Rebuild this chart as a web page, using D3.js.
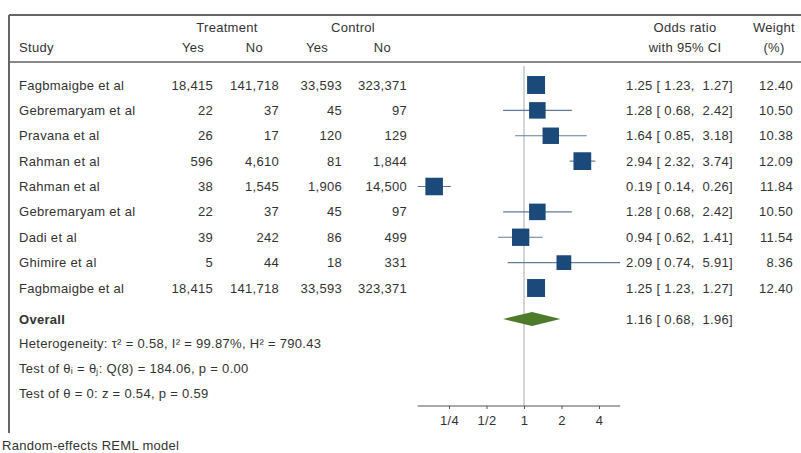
<!DOCTYPE html>
<html>
<head>
<meta charset="utf-8">
<script src="https://cdn.jsdelivr.net/npm/d3@7"></script>
<style>
  body { margin: 0; background: #fff; }
  svg text { font-family: "Liberation Sans", Arial, sans-serif; font-size: 13px; fill: #333; letter-spacing: 0.3px; }
</style>
</head>
<body>
<div id="chart"></div>
<script>
// study rows
const studies = ["Fagbmaigbe et al", "Gebremaryam et al", "Pravana et al", "Rahman et al", "Rahman et al",
  "Gebremaryam et al", "Dadi et al", "Ghimire et al", "Fagbmaigbe et al"];
const treatYes = ["18,415", "22", "26", "596", "38", "22", "39", "5", "18,415"];
const treatNo = ["141,718", "37", "17", "4,610", "1,545", "37", "242", "44", "141,718"];
const ctrlYes = ["33,593", "45", "120", "81", "1,906", "45", "86", "18", "33,593"];
const ctrlNo = ["323,371", "97", "129", "1,844", "14,500", "97", "499", "331", "323,371"];
const oddsRatio = [1.25, 1.28, 1.64, 2.94, 0.19, 1.28, 0.94, 2.09, 1.25];
const ciLow = [1.23, 0.68, 0.85, 2.32, 0.14, 0.68, 0.62, 0.74, 1.23];
const ciHigh = [1.27, 2.42, 3.18, 3.74, 0.26, 2.42, 1.41, 5.91, 1.27];
const weights = [12.40, 10.50, 10.38, 12.09, 11.84, 10.50, 11.54, 8.36, 12.40];

const overall = { or: 1.16, lo: 0.68, hi: 1.96 };
const statLines = [
  "Heterogeneity: τ² = 0.58, I² = 99.87%, H² = 790.43",
  "Test of θᵢ = θⱼ: Q(8) = 184.06, p = 0.00",
  "Test of θ = 0: z = 0.54, p = 0.59"
];
const tickVals = [0.25, 0.5, 1, 2, 4];
const tickLabels = ["1/4", "1/2", "1", "2", "4"];

const W = 801, H = 453;
const svg = d3.select("#chart").append("svg").attr("width", W).attr("height", H);

const fmt = d3.format(".2f");
const rows = studies.map((s, i) => ({
  study: s, ty: treatYes[i], tn: treatNo[i], cy: ctrlYes[i], cn: ctrlNo[i],
  or: oddsRatio[i], lo: ciLow[i], hi: ciHigh[i], w: weights[i]
}));

const x = d3.scaleLog().base(2).domain([0.125, 8]).range([411.5, 636.5]);
const y = d3.scaleLinear().domain([0, rows.length - 1]).range([85, 288]);
const yOverall = 319;
const axisY = 406;

// frame
svg.append("line").attr("x1", 9).attr("x2", W).attr("y1", 15).attr("y2", 15)
  .attr("stroke", "#666").attr("stroke-width", 2);
svg.append("line").attr("x1", 9).attr("x2", 9).attr("y1", 15).attr("y2", 433)
  .attr("stroke", "#666").attr("stroke-width", 2);
svg.append("line").attr("x1", 10).attr("x2", W).attr("y1", 62).attr("y2", 62)
  .attr("stroke", "#888").attr("stroke-width", 2);

// headers
const hdr = svg.append("g");
hdr.append("text").attr("x", 227).attr("y", 32).attr("text-anchor", "middle").text("Treatment");
hdr.append("text").attr("x", 353).attr("y", 32).attr("text-anchor", "middle").text("Control");
hdr.append("text").attr("x", 19).attr("y", 52).text("Study");
[[204, "Yes"], [263, "No"], [328, "Yes"], [391, "No"]].forEach(d =>
  hdr.append("text").attr("x", d[0]).attr("y", 52).attr("text-anchor", "end").text(d[1]));
hdr.append("text").attr("x", 685).attr("y", 32).attr("text-anchor", "middle").text("Odds ratio");
hdr.append("text").attr("x", 685).attr("y", 52).attr("text-anchor", "middle").text("with 95% CI");
hdr.append("text").attr("x", 774).attr("y", 32).attr("text-anchor", "middle").text("Weight");
hdr.append("text").attr("x", 774).attr("y", 52).attr("text-anchor", "middle").text("(%)");

// null line
svg.append("line").attr("x1", x(1)).attr("x2", x(1)).attr("y1", 66).attr("y2", axisY)
  .attr("stroke", "#aaa").attr("stroke-width", 1);

// table columns
const cols = [
  { key: "ty", x: 213 }, { key: "tn", x: 279 }, { key: "cy", x: 342 }, { key: "cn", x: 407 }
];
const rg = svg.selectAll("g.row").data(rows).enter().append("g").attr("class", "row")
  .attr("transform", (d, i) => `translate(0,${y(i)})`);
rg.append("text").attr("x", 19).attr("dy", "0.35em").text(d => d.study);
cols.forEach(c => rg.append("text").attr("x", c.x).attr("dy", "0.35em")
  .attr("text-anchor", "end").text(d => d[c.key]));

// CI lines and squares
rg.append("line").attr("x1", d => x(d.lo)).attr("x2", d => x(d.hi))
  .attr("stroke", "#5f7d99").attr("stroke-width", 1.2);
const side = d => 5.1 * Math.sqrt(d.w);
rg.append("rect").attr("x", d => x(d.or) - side(d) / 2).attr("y", d => -side(d) / 2)
  .attr("width", side).attr("height", side).attr("fill", "#1b4a7a");

// effect text
rg.append("text").attr("x", 733).attr("dy", "0.35em").attr("text-anchor", "end")
  .attr("xml:space", "preserve")
  .text(d => `${fmt(d.or)} [ ${fmt(d.lo)},  ${fmt(d.hi)}]`);
rg.append("text").attr("x", 793).attr("dy", "0.35em").attr("text-anchor", "end").text(d => fmt(d.w));

// overall
svg.append("text").attr("x", 19).attr("y", yOverall).attr("dy", "0.35em")
  .attr("font-weight", "bold").text("Overall");
svg.append("path")
  .attr("d", `M${x(overall.lo)},${yOverall} L${x(overall.or)},${yOverall - 7} L${x(overall.hi)},${yOverall} L${x(overall.or)},${yOverall + 7} Z`)
  .attr("fill", "#4d7a2b");
svg.append("text").attr("x", 733).attr("y", yOverall).attr("dy", "0.35em").attr("text-anchor", "end")
  .attr("xml:space", "preserve")
  .text(`${fmt(overall.or)} [ ${fmt(overall.lo)},  ${fmt(overall.hi)}]`);

statLines.forEach((t, i) => svg.append("text").attr("x", 19).attr("y", 343 + i * 25)
  .attr("dy", "0.35em").text(t));

// axis
const axis = d3.axisBottom(x).tickValues(tickVals).tickSize(3)
  .tickFormat((d, i) => tickLabels[i]);
const ag = svg.append("g").attr("transform", `translate(0,${axisY})`).call(axis);
ag.select(".domain").remove();
ag.append("line").attr("x1", x(d3.min(ciLow))).attr("x2", x(d3.max(ciHigh)))
  .attr("stroke", "#555").attr("stroke-width", 1);
ag.selectAll(".tick line").attr("stroke", "#555");
ag.selectAll(".tick text").attr("font-size", null).attr("font-family", null).attr("fill", "#333")
  .attr("y", 10);

svg.append("text").attr("x", 2).attr("y", 445).attr("dy", "0.35em").text("Random-effects REML model");
</script>
</body>
</html>
